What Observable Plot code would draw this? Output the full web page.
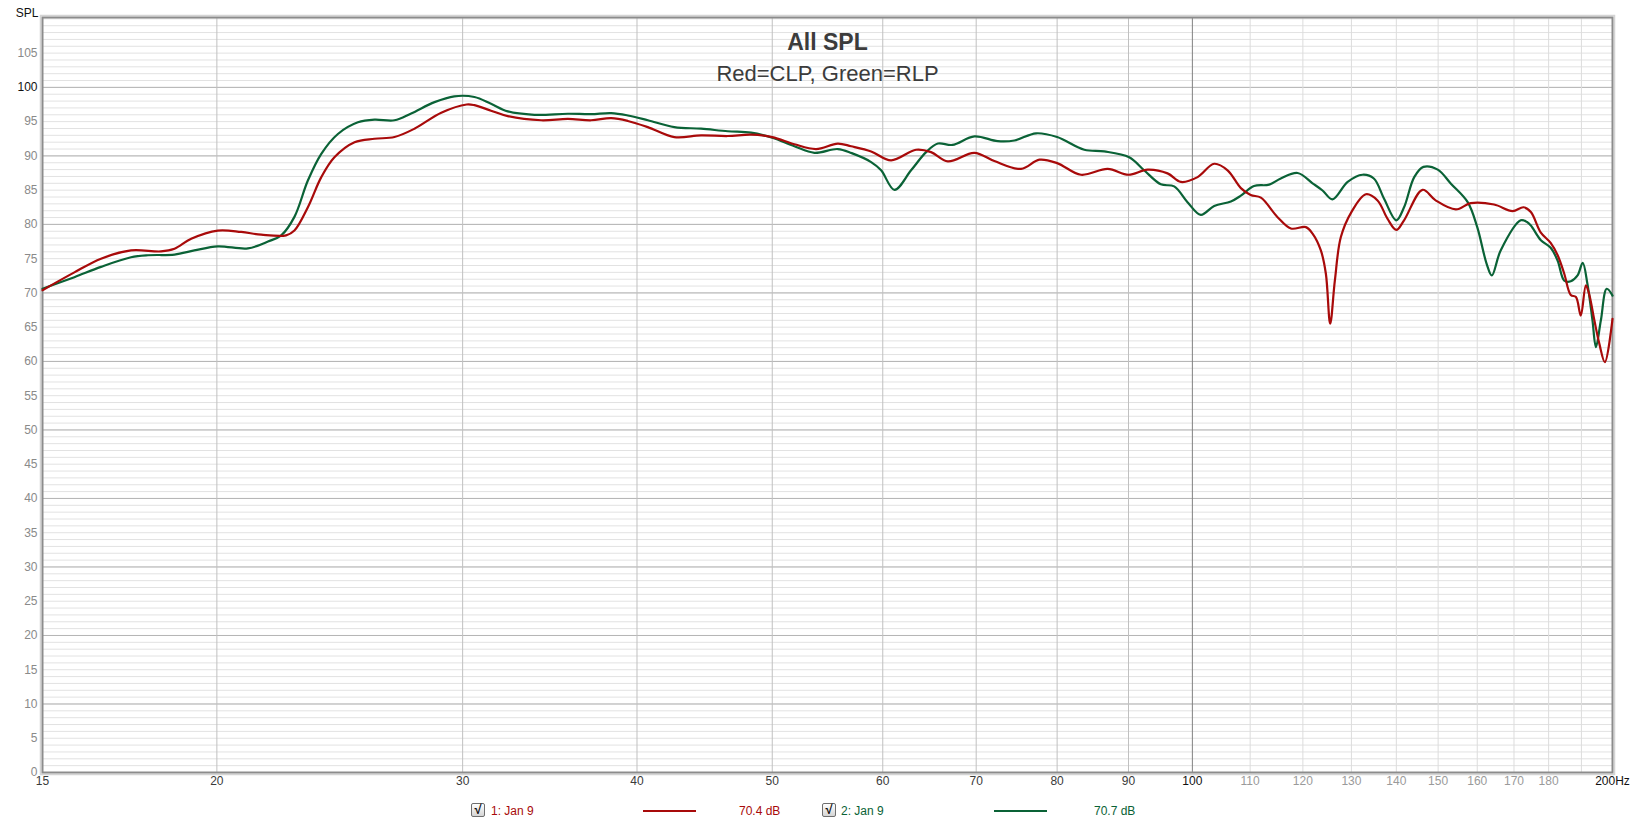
<!DOCTYPE html>
<html>
<head>
<meta charset="utf-8">
<script src="https://cdn.jsdelivr.net/npm/d3@7"></script>
<script src="https://cdn.jsdelivr.net/npm/@observablehq/plot@0.6"></script>
<style>
html, body { margin: 0; padding: 0; background: #fff; overflow: hidden; }
#wrap { position: relative; width: 1633px; height: 825px; font-family: "Liberation Sans", Arial, sans-serif; }
#legend { position: absolute; left: 0; top: 800px; width: 1633px; height: 25px; font-size: 12px; }
#legend .t { position: absolute; top: 4px; line-height: 14px; white-space: nowrap; }
#legend .ln { position: absolute; top: 10px; height: 2px; }
#legend .cb { position: absolute; top: 3px; width: 12px; height: 12px; border: 1px solid #6e6e6e; border-radius: 2px;
  background: linear-gradient(#ffffff, #d4d4d4); font-size: 13px; line-height: 12px; text-align: center; color: #111; font-weight: bold; }
</style>
</head>
<body>
<div id="wrap">
  <div id="chart"></div>
  <div id="legend"></div>
</div>
<script>
// ---- data ----
const redFreq = [15.0, 15.81, 16.52, 17.36, 18.24, 18.65, 19.17, 20.03, 20.82, 21.52, 22.42, 22.73, 23.24, 23.76, 24.28, 25.10, 25.94, 26.81, 27.71, 28.96, 30.2, 30.59, 31.44, 32.32, 34.15, 35.69, 37.08, 38.33, 39.40, 40.72, 42.54, 44.46, 46.46, 48.28, 50.0, 51.86, 53.75, 55.71, 56.95, 58.86, 60.83, 63.39, 64.98, 66.80, 69.79, 72.13, 75.38, 77.7, 80.0, 83.21, 86.96, 90.0, 92.87, 95.99, 98.12, 100.86, 103.66, 105.98, 108.33, 110.1, 111.97, 115.09, 117.65, 120.59, 121.93, 123.61, 124.64, 125.53, 126.5, 127.76, 130.0, 133.14, 135.73, 138.0, 140.0, 141.8, 146.19, 149.3, 154.44, 158.3, 164.5, 169.6, 172.7, 174.8, 177.7, 180.6, 182.7, 184.7, 186.7, 188.3, 189.8, 191.4, 192.4, 194.1, 195.7, 197.5, 200.0];
const redSpl = [70.4, 73.0, 75.0, 76.2, 76.06, 76.45, 77.9, 79.1, 78.9, 78.5, 78.4, 79.1, 82.5, 86.9, 89.8, 92.0, 92.5, 92.75, 93.97, 96.3, 97.5, 97.4, 96.6, 95.8, 95.2, 95.4, 95.2, 95.5, 95.1, 94.2, 92.75, 93.0, 92.9, 93.1, 92.75, 91.7, 91.0, 91.8, 91.4, 90.65, 89.35, 90.9, 90.55, 89.2, 90.45, 89.25, 88.1, 89.45, 88.95, 87.25, 88.1, 87.25, 88.0, 87.45, 86.2, 86.9, 88.85, 87.9, 85.3, 84.3, 83.9, 81.05, 79.4, 79.6, 78.65, 76.2, 72.8, 65.5, 71.8, 78.15, 81.8, 84.4, 83.5, 80.8, 79.2, 80.6, 85.05, 83.55, 82.2, 83.1, 82.9, 81.95, 82.5, 81.8, 78.8, 77.3, 75.5, 72.8, 69.7, 69.4, 66.7, 71.1, 69.9, 66.0, 62.6, 59.9, 66.2];

const greenFreq = [15.0, 15.81, 16.52, 17.36, 17.85, 18.65, 19.27, 20.03, 21.05, 21.76, 22.24, 22.73, 23.24, 23.76, 24.42, 25.24, 25.94, 26.81, 27.56, 28.64, 29.59, 30.59, 31.44, 32.32, 33.77, 35.69, 37.08, 38.33, 39.40, 40.72, 42.54, 44.46, 46.46, 48.28, 50.0, 51.86, 53.6, 55.71, 57.0, 58.86, 59.84, 61.17, 62.87, 64.45, 65.71, 67.31, 69.79, 72.54, 74.56, 77.27, 80.0, 83.67, 86.48, 90.1, 92.35, 94.93, 97.04, 99.2, 101.4, 103.66, 106.56, 108.33, 110.7, 113.5, 115.7, 118.96, 121.93, 123.96, 126.0, 129.2, 132.4, 134.9, 137.2, 140.0, 141.8, 144.2, 146.4, 149.9, 153.2, 157.5, 160.0, 162.5, 163.9, 166.3, 171.9, 173.7, 174.8, 177.7, 180.6, 182.7, 184.7, 186.7, 188.8, 190.4, 191.9, 193.5, 194.6, 196.2, 198.1, 200.0];
const greenSpl = [70.6, 72.3, 73.8, 75.2, 75.5, 75.6, 76.2, 76.8, 76.5, 77.5, 78.4, 81.1, 86.4, 90.3, 93.2, 94.9, 95.3, 95.2, 96.2, 97.85, 98.7, 98.6, 97.6, 96.5, 96.0, 96.15, 96.1, 96.25, 95.9, 95.2, 94.2, 93.97, 93.6, 93.4, 92.65, 91.4, 90.45, 91.0, 90.4, 89.1, 87.9, 85.05, 87.9, 90.55, 91.8, 91.6, 92.85, 92.15, 92.25, 93.3, 92.75, 90.9, 90.65, 89.8, 87.9, 85.85, 85.55, 83.25, 81.4, 82.7, 83.35, 84.2, 85.6, 85.8, 86.7, 87.5, 86.0, 84.95, 83.65, 86.2, 87.25, 86.7, 83.75, 80.6, 82.5, 86.9, 88.4, 88.0, 85.95, 83.25, 79.6, 74.25, 72.55, 76.2, 80.6, 80.35, 79.85, 77.7, 76.6, 74.7, 71.8, 71.7, 72.55, 74.4, 71.3, 66.0, 62.1, 66.0, 70.6, 69.6];

const xTicks = [15, 20, 30, 40, 50, 60, 70, 80, 90, 100, 110, 120, 130, 140, 150, 160, 170, 180, 200];
const xTickLabels = ["15", "20", "30", "40", "50", "60", "70", "80", "90", "100", "110", "120", "130", "140", "150", "160", "170", "180", "200Hz"];
const xGridMajor = [20, 30, 40, 50, 60, 70, 80, 90];
const xGridDecade = [100];
const xGridMinor = [110, 120, 130, 140, 150, 160, 170, 180, 190];
const yTicks = [0, 5, 10, 15, 20, 25, 30, 35, 40, 45, 50, 55, 60, 65, 70, 75, 80, 85, 90, 95, 100, 105];
const yGridMajor = [10, 20, 30, 40, 50, 60, 70, 80, 90, 100];
const yGridMinor = d3.range(1, 111);

const series = [
  {name: "1: Jan 9", value: "70.4 dB", color: "#a80a0a"},
  {name: "2: Jan 9", value: "70.7 dB", color: "#0a6236"}
];
const title = "All SPL";
const subtitle = "Red=CLP, Green=RLP";

const redData = redFreq.map((f, i) => ({f, spl: redSpl[i]}));
const greenData = greenFreq.map((f, i) => ({f, spl: greenSpl[i]}));
const xLab = xTicks.map((v, i) => ({v, label: xTickLabels[i]}));

function xLabelColor(v) {
  if (v === 200 || v === 100) return "#111";
  if (v > 100) return "#9a9a9a";
  return "#3a3a3a";
}

const chart = Plot.plot({
  width: 1633,
  height: 800,
  marginLeft: 42,
  marginRight: 21,
  marginTop: 17,
  marginBottom: 28,
  style: {fontFamily: "'Liberation Sans', Arial, sans-serif", background: "#fff"},
  x: {type: "log", domain: [15, 200], axis: null},
  y: {domain: [0, 110.2], axis: null},
  marks: [
    Plot.ruleY(yGridMinor, {stroke: "#e2e2e2", strokeWidth: 1}),
    Plot.ruleY(yGridMajor, {stroke: "#b4b4b4", strokeWidth: 1}),
    Plot.ruleX(xGridMinor, {stroke: "#dcdcdc", strokeWidth: 1}),
    Plot.ruleX(xGridMajor, {stroke: "#c0c0c0", strokeWidth: 1}),
    Plot.ruleX(xGridDecade, {stroke: "#808080", strokeWidth: 1}),
    Plot.frame({stroke: "#d4d4d4", strokeWidth: 1.5, inset: -2}),
    Plot.frame({stroke: "#8c8c8c", strokeWidth: 2}),
    Plot.text([title], {frameAnchor: "top", dy: 16, fontSize: 23, fontWeight: "bold", fill: "#3c3c3c"}),
    Plot.text([subtitle], {frameAnchor: "top", dy: 48, fontSize: 22, fill: "#3c3c3c"}),
    Plot.line(greenData, {x: "f", y: "spl", stroke: series[1].color, strokeWidth: 2.2, curve: "catmull-rom"}),
    Plot.line(redData, {x: "f", y: "spl", stroke: series[0].color, strokeWidth: 2.2, curve: "catmull-rom"}),
    Plot.text(yTicks, {y: d => d, frameAnchor: "left", dx: -5, textAnchor: "end", fontSize: 12,
      fill: d => d === 100 ? "#111" : "#8a8a8a"}),
    Plot.text(xLab, {x: "v", text: "label", frameAnchor: "bottom", dy: 12, fontSize: 12,
      fill: d => xLabelColor(d.v)}),
    Plot.text(["SPL"], {frameAnchor: "top-left", dx: -4, dy: -9, textAnchor: "end", fontSize: 12, fill: "#111"})
  ]
});
document.getElementById("chart").appendChild(chart);

// ---- legend ----
const legend = document.getElementById("legend");
const layout = [
  {cb: 471, name: 491, line: [643, 696], value: 739},
  {cb: 822, name: 841, line: [994, 1047], value: 1094}
];
series.forEach((s, i) => {
  const L = layout[i];
  const cb = document.createElement("div");
  cb.className = "cb"; cb.style.left = L.cb + "px"; cb.textContent = "√";
  legend.appendChild(cb);
  const n = document.createElement("div");
  n.className = "t"; n.style.left = L.name + "px"; n.style.color = s.color; n.textContent = s.name;
  legend.appendChild(n);
  const ln = document.createElement("div");
  ln.className = "ln"; ln.style.left = L.line[0] + "px"; ln.style.width = (L.line[1] - L.line[0]) + "px"; ln.style.background = s.color;
  legend.appendChild(ln);
  const v = document.createElement("div");
  v.className = "t"; v.style.left = L.value + "px"; v.style.color = s.color; v.textContent = s.value;
  legend.appendChild(v);
});
</script>
</body>
</html>
